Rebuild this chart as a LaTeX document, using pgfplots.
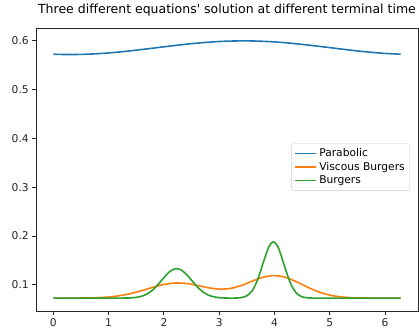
\documentclass[border=0pt]{standalone}
\usepackage{pgfplots}
\pgfplotsset{compat=1.18}
\usepackage{fontspec}
\setmainfont{DejaVu Sans}[Ligatures={TeXOff,NoCommon}]
\definecolor{c0}{HTML}{1F77B4}
\definecolor{c1}{HTML}{FF7F0E}
\definecolor{c2}{HTML}{2CA02C}
\begin{document}
\begin{tikzpicture}
\begin{axis}[
  scale only axis,
  width=382pt, height=283pt,
  xmin=-0.314, xmax=6.597,
  ymin=0.0463, ymax=0.6264,
  xtick={0,1,2,3,4,5,6},
  ytick={0.1,0.2,0.3,0.4,0.5,0.6},
  yticklabel style={/pgf/number format/.cd,fixed,fixed zerofill,precision=1},
  /pgf/number format/assume math mode=true,
  tick label style={font=\fontsize{10.7}{12.8}\selectfont, text=black!85},
  tick align=outside,
  tick pos=left,
  major tick length=3.7pt,
  every tick/.style={black!85, line width=0.85pt},
  axis line style={black!85, line width=0.85pt},
  title={Three different equations\char"0027{} solution at different terminal time},
  title style={font=\fontsize{12.5}{15}\selectfont, at={(0.5,1)}, anchor=south, yshift=2pt},
  legend style={at={(rel axis cs:0.979,0.507)}, anchor=east, yshift=0.5pt,
    draw=black!20, rounded corners=2pt, fill=white,
    font=\fontsize{10.7}{12.8}\selectfont, inner sep=3pt, row sep=0pt,
    nodes={inner sep=2pt}},
  legend cell align=left,
  legend image code/.code={\draw[#1, line width=1.6pt] (0pt,0pt) -- (21pt,0pt);},
  every axis plot/.append style={line width=1.6pt, line join=round},
]
\addplot[c0, smooth] coordinates {
(0,0.5726) (0.25,0.5720) (0.5,0.5723) (0.75,0.5734) (1.0,0.5753) (1.25,0.5779)
(1.5,0.5810) (1.75,0.5843) (2.0,0.5878) (2.25,0.5912) (2.5,0.5943) (2.75,0.5968)
(3.0,0.5987) (3.25,0.5997) (3.5,0.6000) (3.75,0.5993) (4.0,0.5979) (4.25,0.5957)
(4.5,0.5928) (4.75,0.5896) (5.0,0.5862) (5.25,0.5827) (5.5,0.5794) (5.75,0.5766)
(6.0,0.5743) (6.283,0.5726)
};
\addlegendentry{Parabolic}
\addplot[c1, smooth] coordinates {
(0,0.0727) (0.3,0.0727) (0.6,0.0730) (0.8,0.0737) (1.0,0.0750) (1.2,0.0777)
(1.4,0.0821) (1.6,0.0881) (1.8,0.0949) (2.0,0.1007) (2.2,0.1036) (2.4,0.1029)
(2.6,0.0989) (2.8,0.0941) (3.0,0.0912) (3.2,0.0925) (3.4,0.0986) (3.6,0.1076)
(3.8,0.1157) (4.0,0.1189) (4.2,0.1153) (4.4,0.1061) (4.6,0.0951) (4.8,0.0855)
(5.0,0.0789) (5.2,0.0753) (5.4,0.0736) (5.6,0.0730) (5.8,0.0728) (6.0,0.0727)
(6.283,0.0727)
};
\addlegendentry{Viscous Burgers}
\addplot[c2, smooth] coordinates {
(0,0.0727) (0.5,0.0727) (1.0,0.0727) (1.3,0.0729) (1.4,0.0732) (1.5,0.0743)
(1.6,0.0767) (1.7,0.0815) (1.8,0.0897) (1.9,0.1014) (2.0,0.1148) (2.1,0.1266)
(2.2,0.1328) (2.3,0.1312) (2.4,0.1223) (2.5,0.1094) (2.6,0.0964) (2.7,0.0860)
(2.8,0.0792) (2.9,0.0755) (3.0,0.0737) (3.1,0.0730) (3.2,0.0728) (3.3,0.0729)
(3.4,0.0738) (3.5,0.0775) (3.6,0.0883) (3.7,0.1117) (3.8,0.1464) (3.9,0.1784)
(3.98,0.1882) (4.05,0.1806) (4.1,0.1673) (4.2,0.1318) (4.3,0.1007) (4.4,0.0827)
(4.5,0.0754) (4.6,0.0733) (4.7,0.0728) (5.0,0.0727) (5.5,0.0727) (6.0,0.0727)
(6.283,0.0727)
};
\addlegendentry{Burgers}
\end{axis}
\pgfresetboundingbox
\path (current axis.south west) ++(-36pt,-20pt) coordinate (bl);
\path (current axis.north east) ++(1pt,28pt) coordinate (tr);
\useasboundingbox (bl) rectangle (tr);
\end{tikzpicture}
\end{document}
